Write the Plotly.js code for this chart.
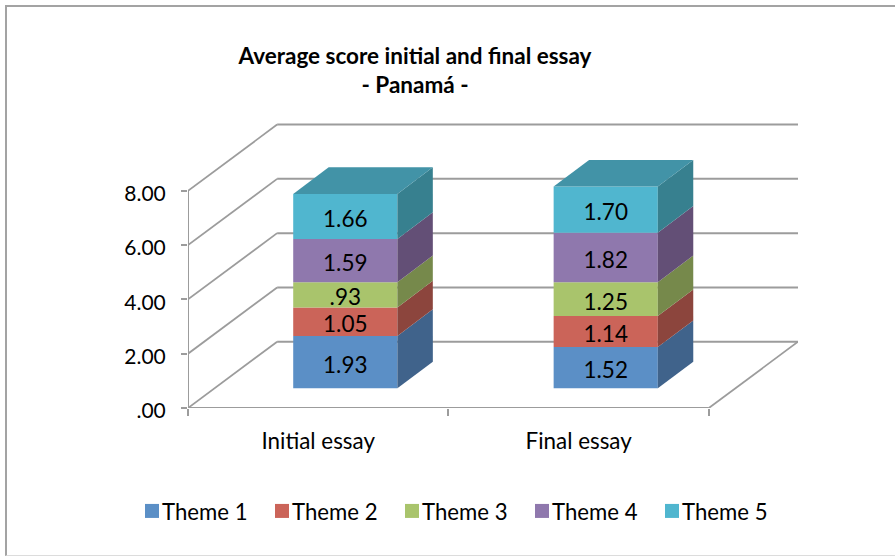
<!DOCTYPE html>
<html>
<head>
<meta charset="utf-8">
<script src="https://cdn.plot.ly/plotly-3.0.1.min.js"></script>
<style>
  html, body { margin: 0; padding: 0; background: #fff; overflow: hidden; }
  #frame { position: absolute; left: 5px; top: 5px; width: 890px; height: 551px;
           box-sizing: border-box; border-left: 2px solid #a3a3a3; border-top: 2px solid #a3a3a3;
           border-bottom: 1px solid #dcdcdc; }
  #chart { position: absolute; left: 0; top: 0; width: 895px; height: 556px; }
</style>
</head>
<body>
<div id="frame"></div>
<div id="chart"></div>
<script>
// Average essay scores by theme, stacked per essay
const categories = ['Initial essay', 'Final essay'];
const themes = ['Theme 1', 'Theme 2', 'Theme 3', 'Theme 4', 'Theme 5'];
const theme1 = [1.93, 1.52];
const theme2 = [1.05, 1.14];
const theme3 = [0.93, 1.25];
const theme4 = [1.59, 1.82];
const theme5 = [1.66, 1.70];
const seriesValues = [theme1, theme2, theme3, theme4, theme5];
const yTicks = [0, 2, 4, 6, 8];

const frontColors = ['#5b8fc6', '#cb6459', '#a9c46c', '#8f78ad', '#50b6cf'];
const sideColors = ['#40638b', '#8c453d', '#76894b', '#634f76', '#37808f'];
const topColor = '#4293a7';
const gridColor = '#9c9c9c';

// Oblique projection: depth is expressed as a shift in axis units
const wallDx = 89 / 260, wallDy = 2.44;
const barDx = 35.4 / 260, barDy = 0.98;
const barLeft = 0.404, barWidth = 0.4, barFloor = 0.726;
const fontFamily = 'Lato, "Open Sans", sans-serif';
const fmt = v => v.toFixed(2).replace(/^0/, '');

const xMax = 2 + wallDx;
const traces = [];

// Front faces
seriesValues.forEach((vals, s) => {
  const bases = vals.map((_, c) => {
    let b = barFloor;
    for (let k = 0; k < s; k++) b += seriesValues[k][c];
    return b;
  });
  traces.push({
    type: 'bar', name: themes[s],
    x: categories.map((_, c) => c + barLeft + barWidth / 2),
    y: vals, base: bases, width: barWidth,
    marker: { color: frontColors[s], line: { width: 0 } },
    text: vals.map(fmt), textposition: 'inside', insidetextanchor: 'middle',
    textangle: 0, constraintext: 'none',
    textfont: { family: fontFamily, size: 22.5, color: '#000' },
    hoverinfo: 'skip'
  });
});

// Side and top faces of every stacked block
categories.forEach((_, c) => {
  const xR = c + barLeft + barWidth;
  let b = barFloor;
  seriesValues.forEach((vals, s) => {
    const t = b + vals[c];
    traces.push({
      type: 'scatter', mode: 'lines', showlegend: false, hoverinfo: 'skip',
      x: [xR, xR + barDx, xR + barDx, xR, xR],
      y: [b, b + barDy, t + barDy, t, b],
      fill: 'toself', fillcolor: sideColors[s], line: { width: 0, color: sideColors[s] }
    });
    b = t;
  });
  const xL = c + barLeft;
  traces.push({
    type: 'scatter', mode: 'lines', showlegend: false, hoverinfo: 'skip',
    x: [xL, xR, xR + barDx, xL + barDx, xL],
    y: [b, b, b + barDy, b + barDy, b],
    fill: 'toself', fillcolor: topColor, line: { width: 0, color: topColor }
  });
});

// Wall and floor lines
const gridLine = (x0, y0, x1, y1, w) => ({
  type: 'line', layer: 'below', xref: 'x', yref: 'y', x0, y0, x1, y1,
  line: { color: gridColor, width: w }
});
const shapes = [];
yTicks.forEach(v => {
  shapes.push(gridLine(wallDx, v + wallDy, xMax, v + wallDy, 2));
  shapes.push(gridLine(0, v, wallDx, v + wallDy, 1.8));
});
shapes.push(gridLine(2, 0, xMax, wallDy, 1.8));
// Axis baselines sit on the front plane
shapes.push(gridLine(0, 0, 2, 0, 2));
shapes.push(gridLine(0, 0, 0, 8, 2));

const layout = {
  width: 895, height: 556,
  margin: { l: 188, r: 97, t: 123, b: 148, pad: 0 },
  paper_bgcolor: 'rgba(0,0,0,0)', plot_bgcolor: 'rgba(0,0,0,0)',
  barmode: 'overlay', showlegend: true, shapes,
  title: {
    text: '<b>Average score initial and final essay<br>- Panamá -</b>',
    x: 415 / 895, xref: 'container', xanchor: 'center',
    y: 1 - 64 / 556, yref: 'container', yanchor: 'middle',
    font: { family: fontFamily, size: 22.5, color: '#000' }
  },
  xaxis: {
    range: [0, xMax], showgrid: false, zeroline: false,
    showline: false, fixedrange: true,
    tickmode: 'array', tickvals: [0.5, 1.5], ticktext: categories, ticks: '',
    ticklabelstandoff: 18,
    tickfont: { family: fontFamily, size: 22.4, color: '#000' },
    minor: { tickmode: 'array', tickvals: [0, 1, 2], ticks: 'outside', ticklen: 7, tickwidth: 2, tickcolor: gridColor }
  },
  yaxis: {
    range: [0, 285 / 27.15], showgrid: false, zeroline: false,
    showline: false, fixedrange: true,
    tickmode: 'array', tickvals: yTicks, ticktext: yTicks.map(fmt),
    ticks: 'outside', ticklen: 6, tickwidth: 2, tickcolor: gridColor,
    ticklabelstandoff: 11,
    tickfont: { family: fontFamily, size: 21, color: '#000' }
  },
  legend: {
    orientation: 'h', x: -56 / 610, xref: 'paper', xanchor: 'left',
    y: -82 / 285, yref: 'paper', yanchor: 'top',
    entrywidth: 85, entrywidthmode: 'pixels',
    font: { family: fontFamily, size: 22.2, color: '#000' },
    bgcolor: 'rgba(0,0,0,0)', traceorder: 'normal'
  }
};

const nudgeDown = (selector, dy) => {
  document.querySelectorAll(selector).forEach(t => {
    t.setAttribute('transform', `translate(0,${dy}) ` + (t.getAttribute('transform') || ''));
  });
};

Plotly.newPlot('chart', traces, layout, { displayModeBar: false, staticPlot: true }).then(() => {
  // Tighter key: slightly larger swatches with the label close beside them
  document.querySelectorAll('.legend .legendtext').forEach(t => {
    t.setAttribute('x', parseFloat(t.getAttribute('x')) - 10);
  });
  document.querySelectorAll('.legend .legendpoints path').forEach(p => {
    p.setAttribute('d', 'M7,7H-7V-7H7Z');
  });
  nudgeDown('.bartext', 2);
  nudgeDown('.ytick text', 3);
});
</script>
</body>
</html>
